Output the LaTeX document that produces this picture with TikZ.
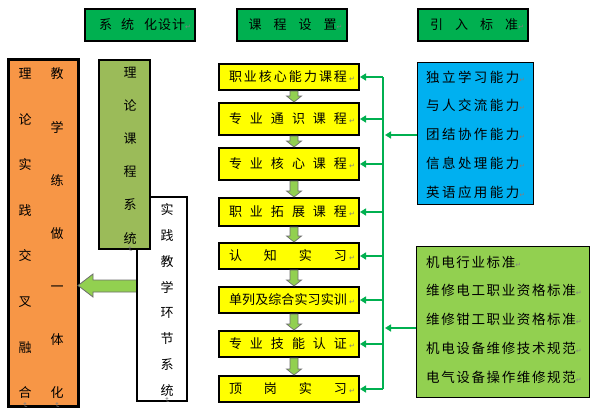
\documentclass[tikz,border=0pt]{standalone}
\usepackage{fontspec}
\setmainfont{Noto Sans CJK SC}
\newfontfamily\symf{DejaVu Sans}
\usetikzlibrary{arrows.meta,calc}
\definecolor{hdrgreen}{RGB}{0,176,80}
\definecolor{corange}{RGB}{247,150,70}
\definecolor{colive}{RGB}{155,187,89}
\definecolor{cyellow}{RGB}{255,255,0}
\definecolor{lgreen}{RGB}{146,208,80}
\definecolor{cblue}{RGB}{0,176,240}
\definecolor{pmgray}{RGB}{128,128,128}
\definecolor{arrgray}{RGB}{110,110,110}
\newcommand{\pmk}{{\symf\fontsize{7}{7}\selectfont\textcolor{pmgray}{↵}}}
\newcommand{\ytext}[1]{\hspace{8pt}\makebox[118pt][s]{#1}\makebox[10pt][l]{\,\pmk}}
\begin{document}
\begin{tikzpicture}[x=1pt,y=-1pt,
  hdr/.style={draw=black,line width=2.5pt,fill=hdrgreen,minimum width=110pt,minimum height=32pt,inner sep=0pt,font=\fontsize{13}{13}\selectfont},
  ybox/.style={draw=black,line width=2pt,fill=cyellow,minimum width=140pt,inner sep=0pt,font=\fontsize{13}{13}\selectfont},
  coltext/.style={align=center,inner sep=0pt},
  pmkv/.style={inner sep=0pt,rotate=-90},
  darr/.style={fill=lgreen,draw=arrgray,line width=0.7pt},
  conn/.style={draw=hdrgreen,line width=2pt,-{Triangle[length=6pt,width=7pt]}},
  busline/.style={draw=hdrgreen,line width=2pt},
  listtxt/.style={align=left,inner sep=0pt,anchor=west}
]
\fill[white] (0,0) rectangle (596,412);
\useasboundingbox (0,0) rectangle (596,412);

% headers
\node[hdr] (h1) at (140,25) {\hspace{10pt}系\hspace{9pt}统\hspace{10pt}化\hspace{1pt}设\hspace{1pt}计\pmk};
\node[hdr] (h2) at (292,25) {\hspace{7pt}课\hspace{12pt}程\hspace{12pt}设\hspace{12pt}置\pmk};
\node[hdr] (h3) at (473,25) {\hspace{8pt}引\hspace{12pt}入\hspace{12pt}标\hspace{12pt}准\pmk};

% left vertical boxes
\node[draw=black,line width=3pt,fill=corange,minimum width=70pt,minimum height=347pt,inner sep=0pt] (orange) at (43,232.5) {};
\node[coltext,font=\fontsize{13}{45.57}\selectfont] (oc1) at (25,233.5) {理\\论\\实\\践\\交\\叉\\融\\合};
\node[coltext,font=\fontsize{13}{53.17}\selectfont] (oc2) at (57,233.5) {教\\学\\练\\做\\一\\体\\化};
\node[pmkv] (pm1) at (25,405) {\pmk};
\node[pmkv] (pm2) at (57,405) {\pmk};

\filldraw[darr,line width=0.8pt] (137,280) -- (93,280) -- (93,274) -- (78,285.5) -- (93,297) -- (93,292) -- (137,292) -- cycle;

\node[draw=black,line width=2pt,fill=white,minimum width=50pt,minimum height=204pt,inner sep=0pt] (wbox) at (162,299) {};
\node[coltext,font=\fontsize{13}{25.86}\selectfont] (wc) at (167,300) {实\\践\\教\\学\\环\\节\\系\\统};
\node[pmkv] (pm4) at (167,400) {\pmk};

\node[draw=black,line width=2pt,fill=colive,minimum width=51pt,minimum height=189pt,inner sep=0pt] (gbox) at (124.5,154.5) {};
\node[coltext,font=\fontsize{13}{33.2}\selectfont] (gc) at (130,155.5) {理\\论\\课\\程\\系\\统};
\node[pmkv] (pm3) at (130,249) {\pmk};

% middle yellow boxes
\node[ybox,minimum height=26pt] (y1) at (289,77) {\ytext{职\hfill{}业\hfill{}核\hfill{}心\hfill{}能\hfill{}力\hfill{}课\hfill{}程}};
\node[ybox,minimum height=32pt] (y2) at (289,119) {\ytext{专\hfill{}业\hfill{}通\hfill{}识\hfill{}课\hfill{}程}};
\node[ybox,minimum height=32pt] (y3) at (289,164) {\ytext{专\hfill{}业\hfill{}核\hfill{}心\hfill{}课\hfill{}程}};
\node[ybox,minimum height=28pt] (y4) at (289,212) {\ytext{职\hfill{}业\hfill{}拓\hfill{}展\hfill{}课\hfill{}程}};
\node[ybox,minimum height=26pt] (y5) at (289,256) {\ytext{认\hfill{}知\hfill{}实\hfill{}习}};
\node[ybox,minimum height=26pt] (y6) at (289,300) {\ytext{单\hfill{}列\hfill{}及\hfill{}综\hfill{}合\hfill{}实\hfill{}习\hfill{}实\hfill{}训}};
\node[ybox,minimum height=26pt] (y7) at (289,344) {\ytext{专\hfill{}业\hfill{}技\hfill{}能\hfill{}认\hfill{}证}};
\node[ybox,minimum height=26pt] (y8) at (289,389) {\ytext{顶\hfill{}岗\hfill{}实\hfill{}习}};

\foreach \a/\b in {y1/y2,y2/y3,y3/y4,y4/y5,y5/y6,y6/y7,y7/y8}{
  \filldraw[darr] let \p1=(\a.south), \p2=(\b.north) in
    (\x1+1pt,\y1) -- (\x1+9pt,\y1) -- (\x1+9pt,\y2+6pt) -- (\x1+12.5pt,\y2+6pt)
    -- (\x1+5pt,\y2) -- (\x1-2.5pt,\y2+6pt) -- (\x1+1pt,\y2+6pt) -- cycle;
}

% right boxes
\node[draw=black,line width=0.8pt,fill=cblue,minimum width=116pt,minimum height=142pt,inner sep=0pt] (blue) at (475,133) {};
\node[listtxt,font=\fontsize{13.5}{28.75}\selectfont\addfontfeature{LetterSpace=18}] (btxt) at (426,134.5)
  {独立学习能力\pmk\\与人交流能力\pmk\\团结协作能力\pmk\\信息处理能力\pmk\\英语应用能力\pmk};

\node[draw=black,line width=0.8pt,fill=lgreen,minimum width=173pt,minimum height=151pt,inner sep=0pt] (rg) at (502.5,321.5) {};
\node[listtxt,font=\fontsize{13.5}{28.75}\selectfont\addfontfeature{LetterSpace=12}] (rtxt) at (426,319.5)
  {机电行业标准\pmk\\维修电工职业资格标准\pmk\\维修钳工职业资格标准\pmk\\机电设备维修技术规范\pmk\\电气设备操作维修规范\pmk};

% connectors
\coordinate (bus) at (383,77);
\coordinate (bin) at ($(blue.west)+(0,2)$);
\coordinate (rin) at ($(rg.west)+(0,6.5)$);
\draw[busline] (bus |- y1.east) -- (bus |- y8.east);
\foreach \n in {y1,y2,y3,y4,y5,y6,y7,y8}{
  \draw[conn] (bus |- \n.east) -- (\n.east);
}
\draw[conn] (bin) -- ($(bus |- bin)+(2,0)$);
\draw[conn] (rin) -- ($(bus |- rin)+(2,0)$);
\end{tikzpicture}
\end{document}
